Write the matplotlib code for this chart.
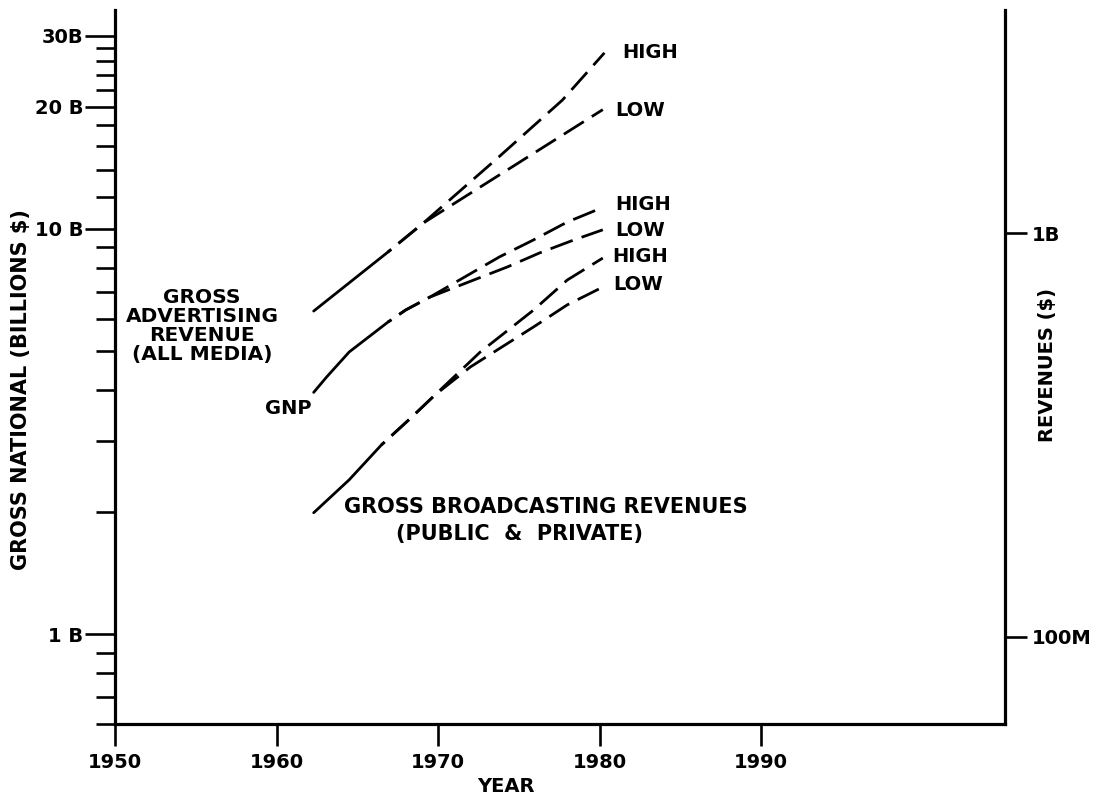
import matplotlib
matplotlib.use("Agg")
import matplotlib.pyplot as plt
from matplotlib.ticker import FixedLocator, NullFormatter, NullLocator, FixedFormatter

plt.rcParams['font.family'] = ['DejaVu Sans']
plt.rcParams['font.weight'] = 'bold'

# ---------------- data ----------------
years_ticks = [1950, 1960, 1970, 1980, 1990]
left_major = [1, 10, 20, 30]
left_major_labels = ["1 B", "10 B", "20 B", "30B"]
left_minor = [0.6, 0.7, 0.8, 0.9, 2, 3, 4, 5, 6, 7, 8, 9, 12, 14, 16, 18, 22, 24, 26, 28]
right_major = [100, 1000]
right_major_labels = ["100M", "1B"]

# Gross advertising revenue (billions $, left axis)
adv_solid_years = [1962.3, 1966.9]
adv_solid_vals = [6.27, 8.77]
adv_high_years = [1966.9, 1969.1, 1973.8, 1977.7, 1980.3]
adv_high_vals = [8.77, 10.35, 15.1, 20.8, 27.2]
adv_low_years = [1966.9, 1969.1, 1980.2]
adv_low_vals = [8.77, 10.35, 19.7]

# GNP (left axis)
gnp_solid_years = [1962.3, 1963.1, 1964.5, 1966.9]
gnp_solid_vals = [3.95, 4.31, 4.97, 5.89]
gnp_high_years = [1966.9, 1968.0, 1969.5, 1973.8, 1975.9, 1978.0, 1980.2]
gnp_high_vals = [5.89, 6.31, 6.79, 8.53, 9.39, 10.4, 11.3]
gnp_low_years = [1966.9, 1968.0, 1969.5, 1974.3, 1976.3, 1978.4, 1980.2]
gnp_low_vals = [5.89, 6.31, 6.79, 8.06, 8.73, 9.39, 9.95]

# Gross broadcasting revenues (millions $, right axis)
brd_solid_years = [1962.3, 1964.5, 1966.5]
brd_solid_vals = [203, 245, 299]
brd_high_years = [1966.5, 1968.3, 1969.8, 1972.6, 1975.9, 1978.0, 1980.2]
brd_high_vals = [299, 348, 397, 507, 644, 765, 867]
brd_low_years = [1966.5, 1968.3, 1969.8, 1972.0, 1975.9, 1978.0, 1980.2]
brd_low_vals = [299, 348, 397, 466, 585, 664, 735]

# ---------------- figure ----------------
W, H = 1099, 800
fig = plt.figure(figsize=(W / 100, H / 100), dpi=100)
ax = fig.add_axes([115 / W, 1 - 724 / H, 890 / W, 714 / H])
ax.set_yscale('log')
ax.set_xlim(1950, 2005.1)
ax.set_ylim(0.6, 34.7)
ax.patch.set_alpha(0)

ax2 = ax.twinx()
ax2.set_yscale('log')
ax2.set_ylim(60.9, 3565)

SPW = 2.3
for s in ['top', 'right']:
    ax.spines[s].set_visible(False)
for s in ['left', 'bottom']:
    ax.spines[s].set_linewidth(SPW)
for s in ['top', 'left', 'bottom']:
    ax2.spines[s].set_visible(False)
ax2.spines['right'].set_linewidth(SPW)

ax.set_xticks(years_ticks)
ax.set_xticklabels([str(y) for y in years_ticks], fontsize=14, fontweight='bold')
ax.tick_params(axis='x', direction='out', length=16, width=1.9, pad=5)

ax.yaxis.set_major_locator(FixedLocator(left_major))
ax.yaxis.set_major_formatter(FixedFormatter(left_major_labels))
ax.yaxis.set_minor_locator(FixedLocator(left_minor))
ax.yaxis.set_minor_formatter(NullFormatter())
ax.tick_params(axis='y', which='major', direction='out', length=21.5, width=1.9, pad=1.5, labelsize=14)
ax.tick_params(axis='y', which='minor', direction='out', length=13.5, width=1.9)
for lab in ax.get_yticklabels():
    lab.set_fontweight('bold')

ax2.yaxis.set_major_locator(FixedLocator(right_major))
ax2.yaxis.set_major_formatter(FixedFormatter(right_major_labels))
ax2.yaxis.set_minor_locator(NullLocator())
ax2.tick_params(axis='y', which='major', direction='out', length=15.5, width=1.9, pad=4, labelsize=14)
for lab in ax2.get_yticklabels():
    lab.set_fontweight('bold')

LW = 2.0
kw_solid = dict(color='black', lw=LW, solid_capstyle='round')
kw_dash = dict(color='black', lw=LW, linestyle=(7, (8.5, 3.4)), dash_capstyle='butt')

ax.plot(adv_solid_years, adv_solid_vals, **kw_solid)
ax.plot(adv_high_years, adv_high_vals, **kw_dash)
ax.plot(adv_low_years, adv_low_vals, **kw_dash)

ax.plot(gnp_solid_years, gnp_solid_vals, **kw_solid)
ax.plot(gnp_high_years, gnp_high_vals, **kw_dash)
ax.plot(gnp_low_years, gnp_low_vals, **kw_dash)

ax2.plot(brd_solid_years, brd_solid_vals, **kw_solid)
ax2.plot(brd_high_years, brd_high_vals, **kw_dash)
ax2.plot(brd_low_years, brd_low_vals, **kw_dash)


def T(x, y, s, **kw):
    kw.setdefault('fontweight', 'bold')
    kw.setdefault('fontsize', 14)
    fig.text(x / W, 1 - y / H, s, **kw)


# axis titles
T(21, 390, "GROSS NATIONAL (BILLIONS $)", rotation=90, ha='center', va='center', fontsize=15)
T(1048, 365, "REVENUES ($)", rotation=90, ha='center', va='center', fontsize=14)
T(506, 786, "YEAR", ha='center', va='center', fontsize=14)

# annotations
T(202, 326, "GROSS\nADVERTISING\nREVENUE\n(ALL MEDIA)", ha='center', va='center',
  multialignment='center', linespacing=1.02, fontsize=14.5)
T(288, 408, "GNP", ha='center', va='center')
T(546, 507, "GROSS BROADCASTING REVENUES", ha='center', va='center', fontsize=15)
T(519, 534, "(PUBLIC  &  PRIVATE)", ha='center', va='center', fontsize=15)

T(622, 53, "HIGH", ha='left', va='center')
T(615, 110, "LOW", ha='left', va='center')
T(615, 205, "HIGH", ha='left', va='center')
T(615, 230, "LOW", ha='left', va='center')
T(612, 257, "HIGH", ha='left', va='center')
T(613, 285, "LOW", ha='left', va='center')

fig.savefig("out.png", dpi=100, facecolor='white')
